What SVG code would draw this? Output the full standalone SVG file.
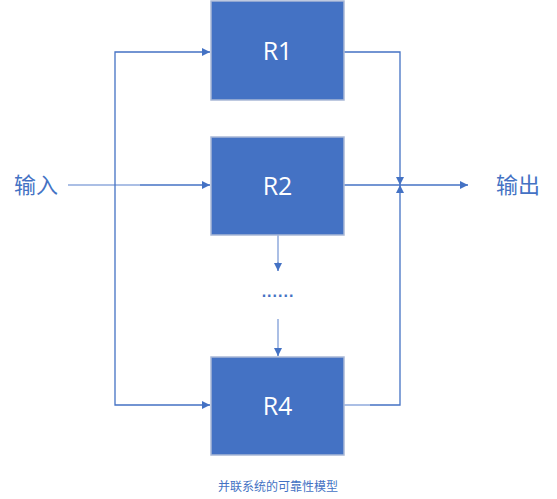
<svg xmlns="http://www.w3.org/2000/svg" width="557" height="499" viewBox="0 0 557 499">
<style>
.box{fill:#4472C4;stroke:#A9B8D6;stroke-width:1.5}
.lbl{font-family:"Open Sans","Noto Sans","Liberation Sans",sans-serif;font-size:25px;fill:#FFFFFF;text-anchor:middle}
.side{font-family:"Noto Sans CJK SC",sans-serif;font-size:22px;fill:#4472C4}
.cap{font-family:"Noto Sans CJK SC",sans-serif;font-size:12px;fill:#4472C4}
.ln{fill:none;stroke:#4472C4;stroke-width:1.3}
.lt{fill:none;stroke:#8FAADC;stroke-width:1.5}
</style>
<defs>
<marker id="ah" viewBox="0 0 10 10" refX="10" refY="5" markerWidth="8" markerHeight="8" markerUnits="userSpaceOnUse" orient="auto">
<path d="M0,0 L10,5 L0,10 Z" fill="#4472C4"/>
</marker>
</defs>
<g id="connectors">
<path class="lt" d="M68,185 H140"/>
<path class="ln" d="M140,185 H210" marker-end="url(#ah)"/>
<path class="ln" d="M115,185 V52 H210" marker-end="url(#ah)"/>
<path class="ln" d="M115,185 V405 H210" marker-end="url(#ah)"/>
<path class="ln" d="M344,52 H400 V185" marker-end="url(#ah)"/>
<path class="lt" d="M344,405 H370"/>
<path class="ln" d="M370,405 H400 V185" marker-end="url(#ah)"/>
<path class="ln" d="M344,185 H468" marker-end="url(#ah)"/>
<path class="lt" d="M278,235 V262"/>
<path class="ln" d="M278,262 V271" marker-end="url(#ah)"/>
<path class="lt" d="M278,319 V348"/>
<path class="ln" d="M278,348 V356" marker-end="url(#ah)"/>
</g>
<g id="R1"><rect class="box" x="211" y="1" width="133" height="99"/><text class="lbl" x="277.5" y="60">R1</text></g>
<g id="R2"><rect class="box" x="211" y="137" width="133" height="98"/><text class="lbl" x="277.5" y="195">R2</text></g>
<g id="R4"><rect class="box" x="211" y="357" width="133" height="98"/><text class="lbl" x="277.5" y="415">R4</text></g>
<g id="dots"><text x="278" y="297" font-family="'Liberation Sans',sans-serif" font-size="16" font-weight="bold" letter-spacing="1" fill="#4472C4" text-anchor="middle">......</text></g>
<g id="input"><text class="side" x="14" y="193">输入</text></g>
<g id="output"><text class="side" x="496" y="193">输出</text></g>
<g id="caption"><text class="cap" x="218" y="491">并联系统的可靠性模型</text></g>
</svg>
